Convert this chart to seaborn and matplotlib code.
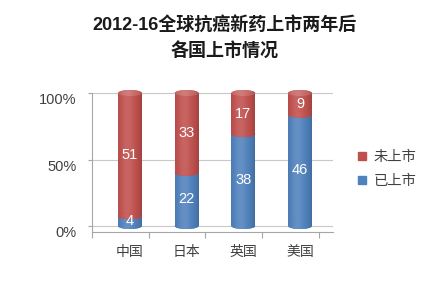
import numpy as np
import pandas as pd
import matplotlib
matplotlib.use("Agg")
import matplotlib.pyplot as plt
import seaborn as sns
from matplotlib.patches import Ellipse
from matplotlib.lines import Line2D
import matplotlib.transforms as mtransforms
import matplotlib.colors as mcolors

# ---- data ----
countries = ["中国", "日本", "英国", "美国"]
listed = [4, 22, 38, 46]        # 已上市
unlisted = [51, 33, 17, 9]      # 未上市
series_names = ["未上市", "已上市"]
y_ticks = [0, 0.5, 1.0]
y_tick_labels = ["0%", "50%", "100%"]
title = "2012-16全球抗癌新药上市两年后\n各国上市情况"

RED = "#C0504D"
BLUE = "#4F81BD"
GRAY = "#A6A6A6"
TXT = "#404040"

sns.set_theme(style="white")
plt.rcParams['font.family'] = ['Liberation Sans', 'Noto Sans CJK SC', 'DejaVu Sans']

df = pd.DataFrame({"country": countries, "listed": listed, "unlisted": unlisted})
df["total"] = df["listed"] + df["unlisted"]
df["listed_frac"] = df["listed"] / df["total"]
df["full"] = df["total"] / df["total"]

fig = plt.figure(figsize=(4.38, 2.91), dpi=100)
ax = fig.add_axes([0.210, 0.2027, 0.550, 0.505])

sns.barplot(data=df, x="country", y="full", color=RED, width=0.42,
            saturation=1, errorbar=None, ax=ax)
sns.barplot(data=df, x="country", y="listed_frac", color=BLUE, width=0.42,
            saturation=1, errorbar=None, ax=ax)


def shade_img(color, lighten=0.0):
    base = np.array(mcolors.to_rgb(color))
    base = base + (1 - base) * lighten
    t = np.linspace(0, 1, 64)
    light = 0.12 * np.exp(-((t - 0.4) / 0.25) ** 2)
    dark = 0.16 * (np.abs(t - 0.42) / 0.58) ** 3
    rgb = base[None, :] * (1 - dark)[:, None] + light[:, None] * (1 - base[None, :])
    return np.clip(rgb, 0, 1)[None, :, :]


def fill_gradient(patch, color, z, lighten=0.0):
    if patch.axes is None:
        ax.add_patch(patch)
    patch.set_zorder(z)
    patch.set_facecolor(color)
    patch.set_edgecolor("none")
    bb = patch.get_extents().transformed(ax.transData.inverted())
    im = ax.imshow(shade_img(color, lighten), extent=[bb.x0, bb.x1, bb.y0, bb.y1],
                   aspect="auto", interpolation="bilinear", zorder=z + 0.01)
    im.set_clip_path(patch)


XL = (-0.67, 3.58)
YL = (-0.045, 1.06)
ax.set_xlim(*XL)
ax.set_ylim(*YL)
fig.canvas.draw()

n = len(countries)
red_patches = ax.patches[:n]
blue_patches = ax.patches[n:2 * n]
eh = 0.045

for i in range(n):
    rp, bp = red_patches[i], blue_patches[i]
    w = rp.get_width()
    cx = rp.get_x() + w / 2
    frac = bp.get_height()
    fill_gradient(rp, RED, 2.0)
    fill_gradient(bp, BLUE, 2.1)
    fill_gradient(Ellipse((cx, 0), w, eh), BLUE, 2.15)
    fill_gradient(Ellipse((cx, frac), w, eh), RED, 2.2)
    fill_gradient(Ellipse((cx, rp.get_height()), w, eh), RED, 2.3, lighten=0.15)
    ax.text(cx, frac / 2, str(listed[i]), color="white", fontsize=10.5,
            ha="center", va="center", zorder=5)
    ax.text(cx, frac + (1 - frac) / 2, str(unlisted[i]), color="white", fontsize=10.5,
            ha="center", va="center", zorder=5)

ax.set_xlim(*XL)
ax.set_ylim(*YL)

# axes styling
ax.set_xlabel("")
ax.set_ylabel("")
ax.set_yticks(y_ticks)
ax.set_yticklabels(y_tick_labels)
ax.yaxis.grid(True, color="#C8C8C8", lw=0.8)
ax.set_axisbelow(True)
for s in ["top", "right"]:
    ax.spines[s].set_visible(False)
for s in ["left", "bottom"]:
    ax.spines[s].set_color(GRAY)
    ax.spines[s].set_linewidth(0.8)
ax.spines["left"].set_bounds(YL[0], 1.0)

ax.tick_params(axis="y", which="major", length=3, width=0.8, color=GRAY,
               pad=8, labelsize=10.5, labelcolor=TXT, left=True)
ax.tick_params(axis="x", which="major", length=0, pad=9, labelsize=10, labelcolor=TXT)
ax.set_xticks(np.arange(n + 1) - 0.67, minor=True)
ax.tick_params(axis="x", which="minor", length=4, width=0.8, color=GRAY, bottom=True)

offset = mtransforms.ScaledTranslation(0, -5.5 / 100, fig.dpi_scale_trans)
for lab in ax.get_yticklabels():
    lab.set_transform(lab.get_transform() + offset)

# legend
handles = [Line2D([], [], marker="s", ls="", color=RED, markersize=6),
           Line2D([], [], marker="s", ls="", color=BLUE, markersize=6)]
fig.legend(handles=handles, labels=series_names, loc="center left",
           bbox_to_anchor=(0.814, 0.419), frameon=False, fontsize=10.3,
           handlelength=0.8, handletextpad=0.4, labelspacing=0.7,
           borderpad=0, borderaxespad=0, labelcolor=TXT)

fig.text(0.513, 0.866, title, ha="center", va="center", fontsize=13,
         fontweight="bold", color="#1a1a1a", linespacing=1.55, multialignment="center")

fig.savefig("out.png", dpi=100)
